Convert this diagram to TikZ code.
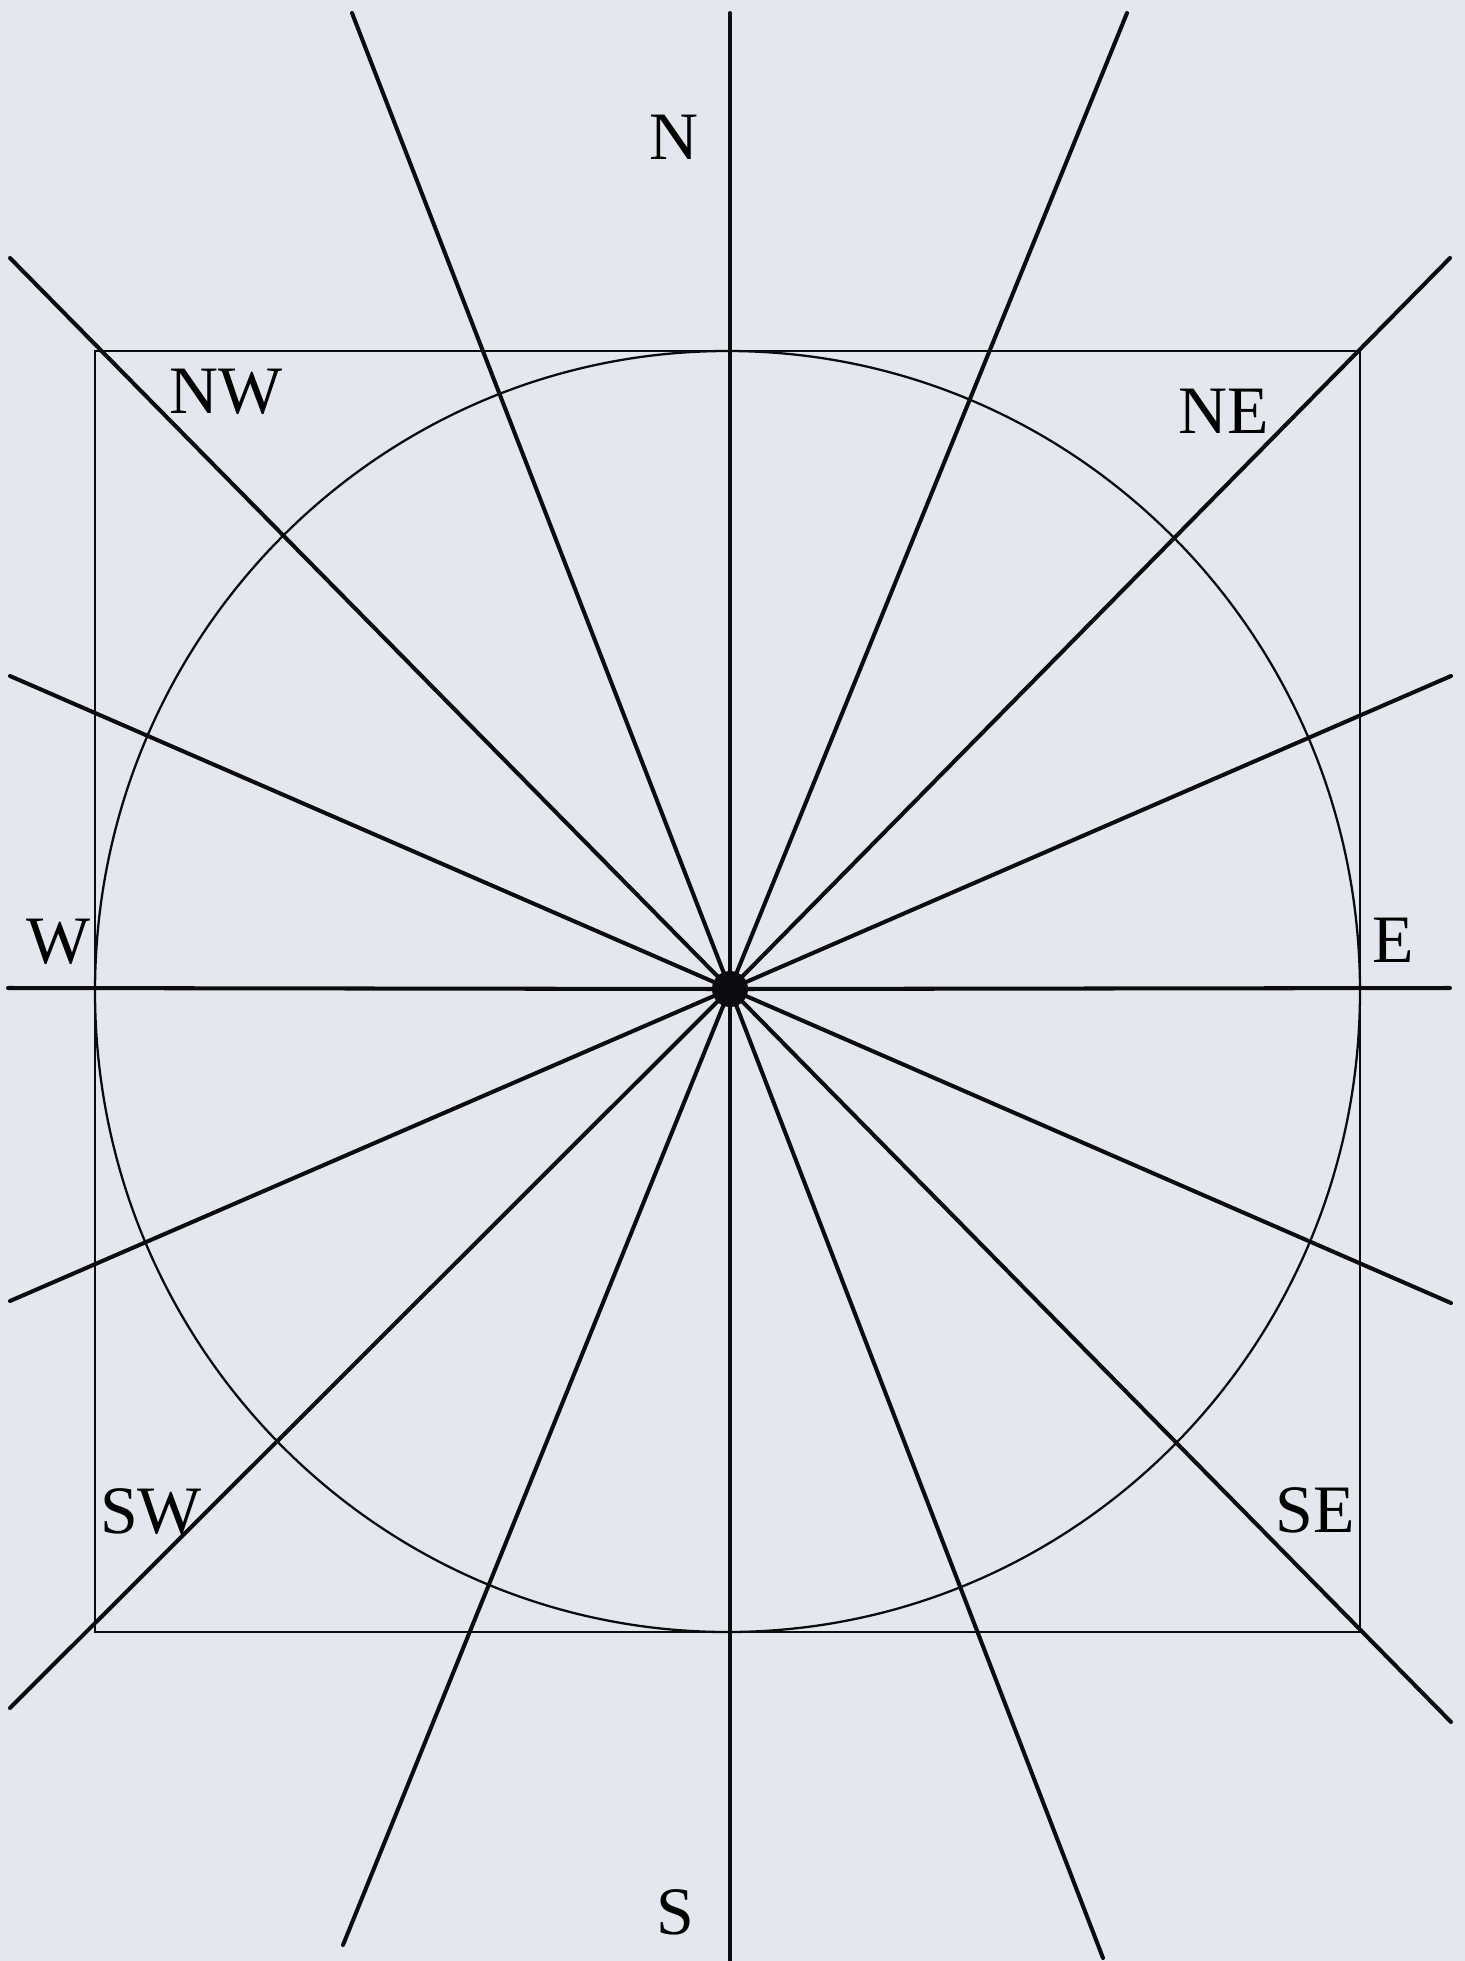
\documentclass[tikz,border=0pt]{standalone}
\usepackage{fontspec}
\setmainfont{Liberation Serif}
\usetikzlibrary{calc}
\tikzset{
  ray/.style={line width=1.15pt, line cap=round},
  frame/.style={line width=0.65pt},
  lbl/.style={font=\fontsize{19.3}{22}\selectfont, inner sep=0pt, anchor=center},
  hub/.style={circle, fill, inner sep=0pt, minimum size=3.6mm},
}
\definecolor{paper}{RGB}{228,231,238}
\definecolor{ink}{RGB}{12,12,14}

\begin{document}
\begin{tikzpicture}[x=0.1mm, y=-0.1mm]
  \fill[paper] (0,0) rectangle (1465,1961);
  \useasboundingbox (0,0) rectangle (1465,1961);
  \coordinate (O) at (730,989);
  % ray end points (clipped at the sheet)
  \coordinate (n)   at (730,13);    \coordinate (s)   at (730,1961);
  \coordinate (w)   at (8,988);     \coordinate (e)   at (1450,988);
  \coordinate (nnw) at (352,13);    \coordinate (sse) at (1103,1958);
  \coordinate (nne) at (1127,13);   \coordinate (ssw) at (343,1945);
  \coordinate (nw)  at (10,258);    \coordinate (se)  at (1451,1722);
  \coordinate (ne)  at (1450,258);  \coordinate (sw)  at (10,1708);
  \coordinate (wnw) at (10,676);    \coordinate (ese) at (1451,1303);
  \coordinate (ene) at (1451,676);  \coordinate (wsw) at (10,1301);
  % square and circle
  \draw[frame, ink] (95,351) rectangle (1360,1632);
  \draw[frame, ink] (727.5,991.5) ellipse (632.5 and 640.5);
  % rays
  \foreach \a/\b in {n/s, w/e, nnw/sse, nne/ssw, nw/se, ne/sw, wnw/ese, ene/wsw}
    \draw[ray, ink] (\a) -- (O) -- (\b);
  \node[hub, ink] (hub) at (O) {};
  % labels
  \node[lbl] (lN)  at (674,137)   {N};
  \node[lbl] (lS)  at (675,1912)  {S};
  \node[lbl] (lW)  at (59,942)    {W};
  \node[lbl] (lE)  at (1393,940)  {E};
  \node[lbl] (lNW) at (226,392)   {NW};
  \node[lbl] (lNE) at (1224,411)  {NE};
  \node[lbl] (lSW) at (151,1512)  {SW};
  \node[lbl] (lSE) at (1315,1510) {SE};
\end{tikzpicture}
\end{document}
